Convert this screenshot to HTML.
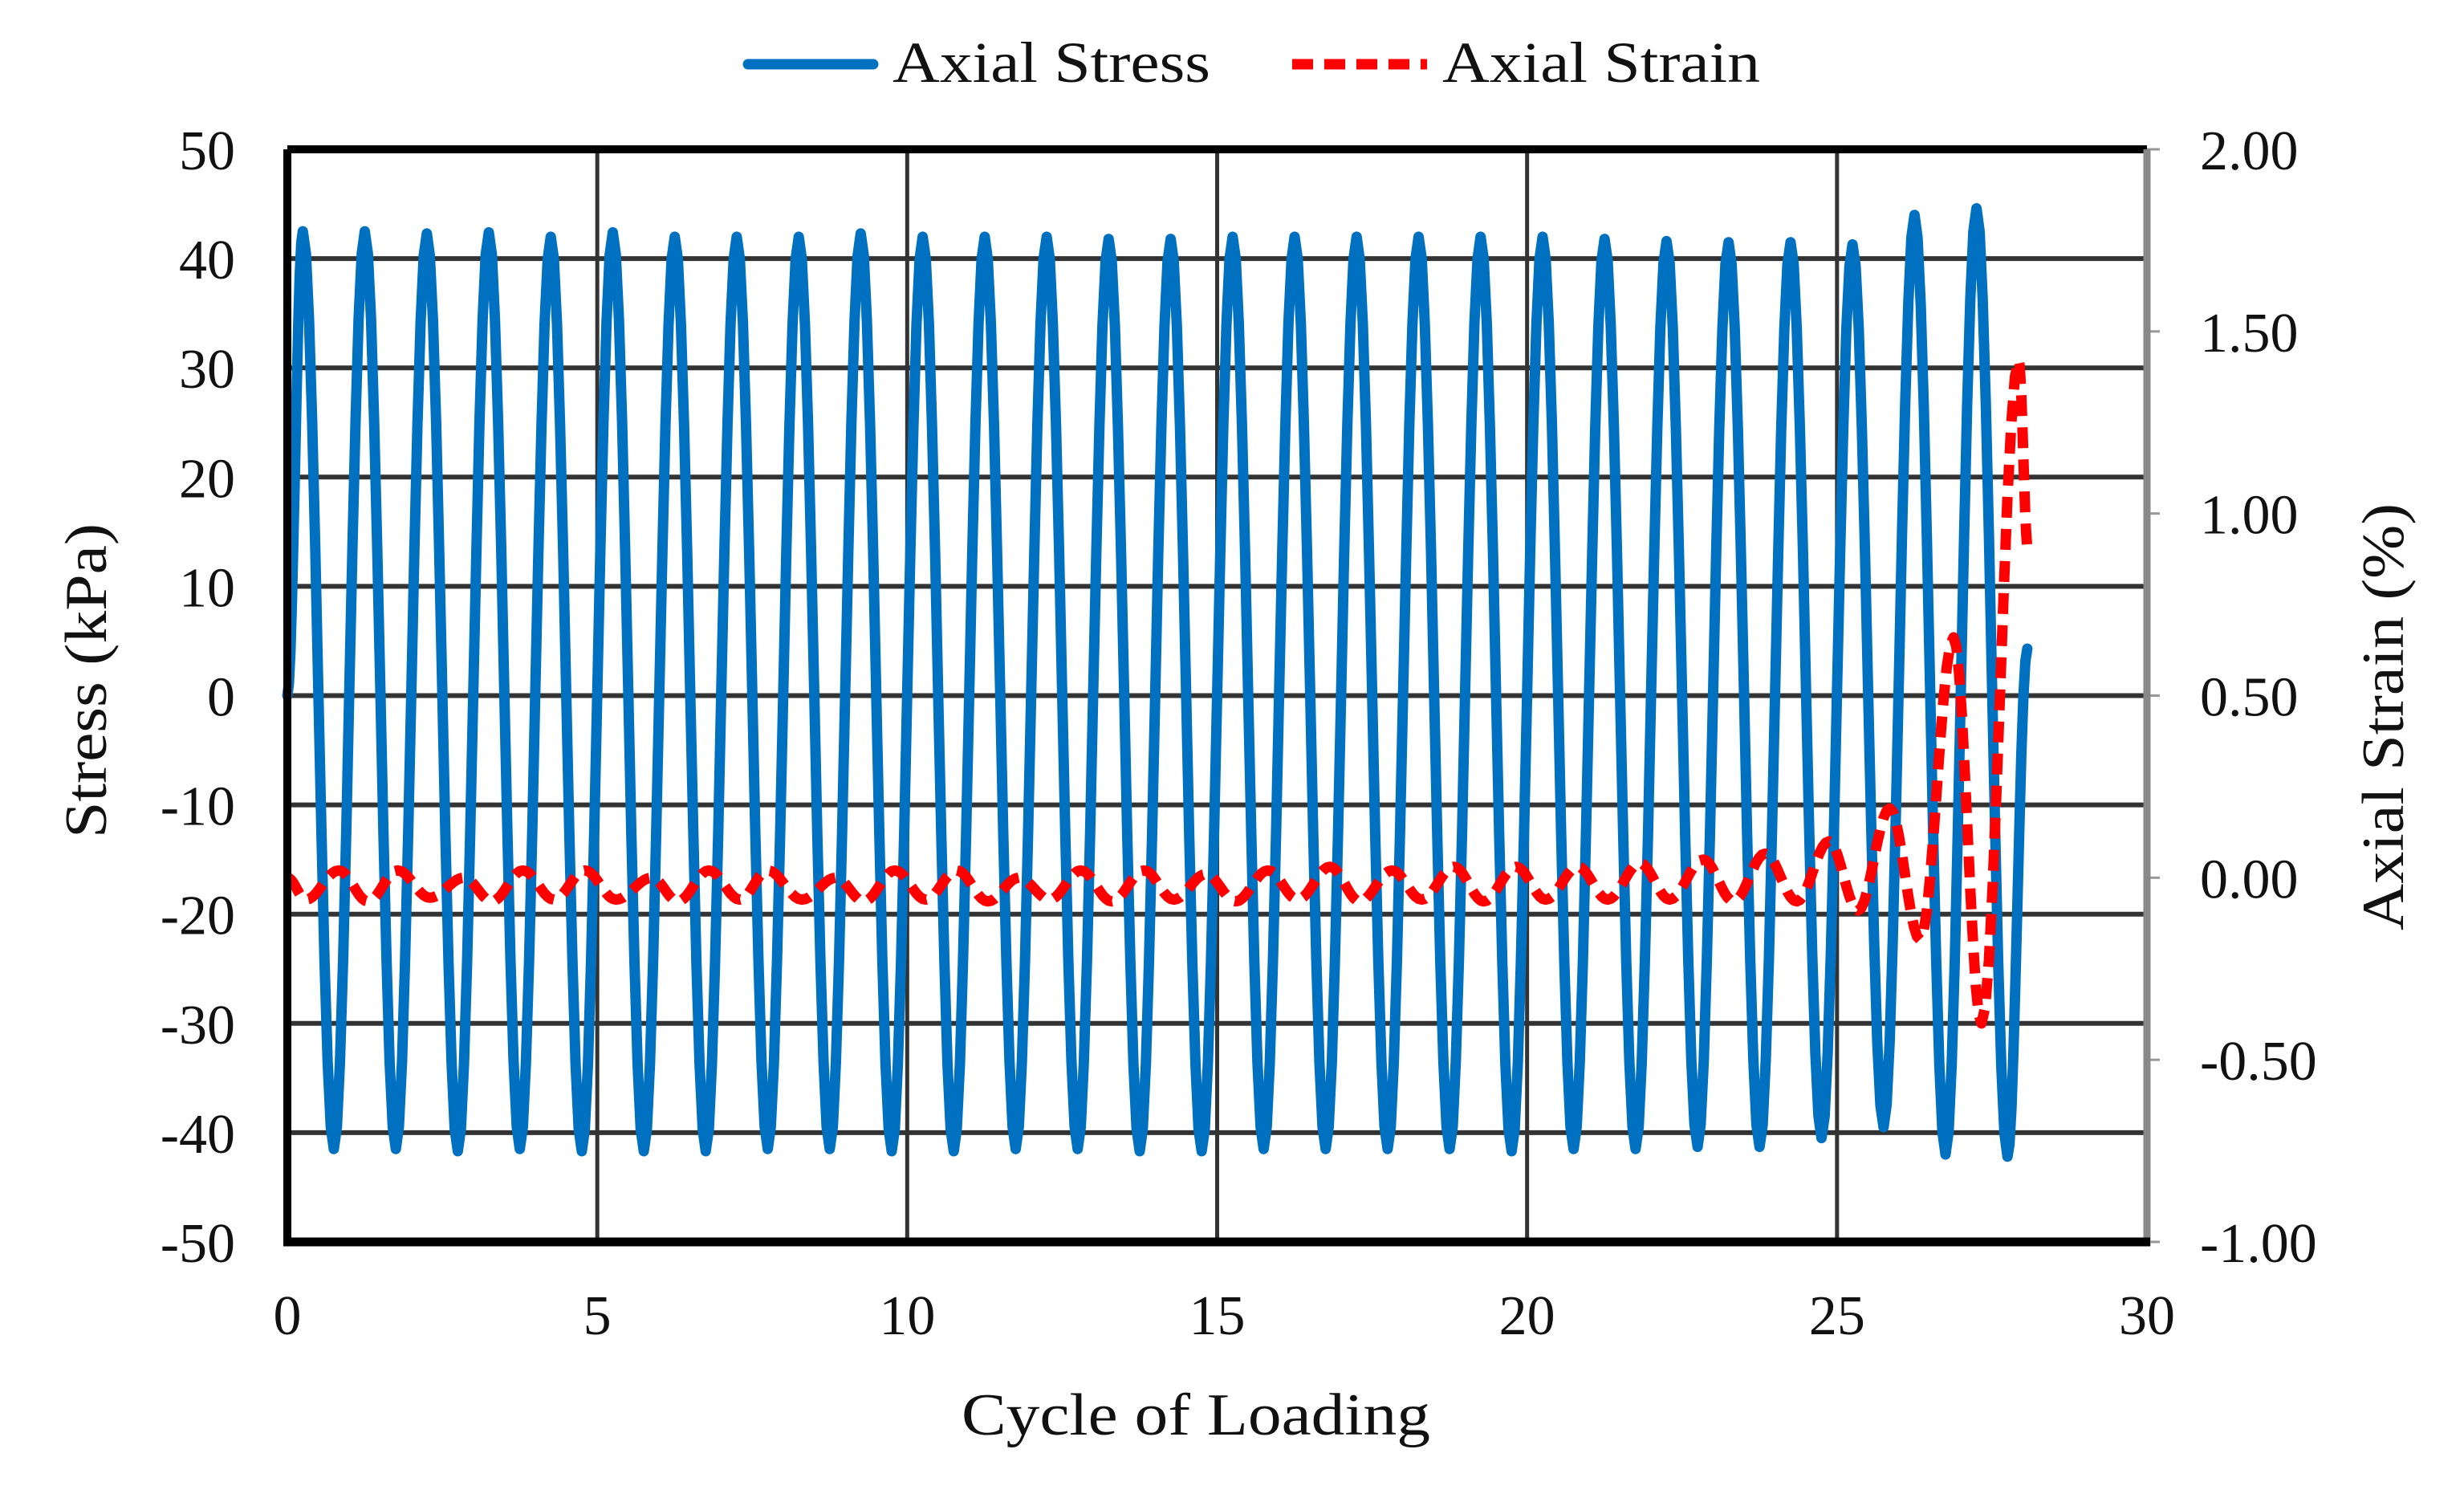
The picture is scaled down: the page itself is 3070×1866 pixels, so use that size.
<!DOCTYPE html>
<html><head><meta charset="utf-8"><style>
html,body{margin:0;padding:0;background:#fff;}
svg{display:block;}
text{font-family:"Liberation Serif",serif;fill:#111;}
</style></head><body>
<svg id="chart" width="3070" height="1866" viewBox="0 0 3070 1866" xmlns="http://www.w3.org/2000/svg">
<g id="grid"></g>
<g id="series"></g>
<g id="frame"></g>
<g id="ticks"></g>
<text x="1490" y="1787" font-size="74" text-anchor="middle" textLength="584" lengthAdjust="spacingAndGlyphs">Cycle of Loading</text>
<text transform="translate(132,848) rotate(-90)" font-size="74" text-anchor="middle" textLength="392" lengthAdjust="spacingAndGlyphs">Stress (kPa)</text>
<text transform="translate(2994,893) rotate(-90)" font-size="74" text-anchor="middle" textLength="532" lengthAdjust="spacingAndGlyphs">Axial Strain (%)</text>
<g>
<g>
<line x1="932" y1="80" x2="1088" y2="80" stroke="#0070C0" stroke-width="13" stroke-linecap="round"/>
<text x="1112" y="102" font-size="72" textLength="396" lengthAdjust="spacingAndGlyphs">Axial Stress</text>
</g>
<g>
<line x1="1610" y1="80" x2="1778" y2="80" stroke="#FF0000" stroke-width="13" stroke-dasharray="26,14"/>
<text x="1797" y="102" font-size="72" textLength="396" lengthAdjust="spacingAndGlyphs">Axial Strain</text>
</g>
</g>
</svg>
<script>
// ---- data ----
const xTicks = [0,5,10,15,20,25,30];
const yTicksLeft = [50,40,30,20,10,0,-10,-20,-30,-40,-50];
const yTicksRight = ["2.00","1.50","1.00","0.50","0.00","-0.50","-1.00"];
const stressPeaks = [42.5,42.5,42.3,42.4,42.0,42.4,42.0,42.0,42.0,42.3,42.0,42.0,42.0,41.8,41.8,42.0,42.0,42.0,42.0,42.0,42.0,41.8,41.6,41.5,41.5,41.3,44.0,44.6];
const stressTroughs = [-41.5,-41.5,-41.7,-41.5,-41.7,-41.7,-41.7,-41.5,-41.5,-41.7,-41.7,-41.5,-41.5,-41.7,-41.7,-41.5,-41.5,-41.5,-41.5,-41.7,-41.5,-41.5,-41.3,-41.3,-40.5,-39.5,-42.0,-42.2];
const stressStart = 0;
const stressEnd = [28.07, 4.3];
const strainX = [0,0.3,0.83,1.3,1.78,2.3,2.85,3.3,3.8,4.3,4.8,5.3,5.88,6.3,6.8,7.3,7.75,8.3,8.85,9.3,9.8,10.3,10.8,11.3,11.8,12.3,12.8,13.3,13.82,14.3,14.82,15.3,15.82,16.3,16.82,17.3,17.82,18.3,18.82,19.3,19.82,20.3,20.82,21.3,21.82,22.3,22.84,23.33,23.84,24.35,24.87,25.34,25.85,26.34,26.88,27.33,27.93,28.08];
const strainV = [0.0,-0.06,0.02,-0.065,0.02,-0.055,0.0,-0.065,0.02,-0.06,0.02,-0.06,0.0,-0.065,0.02,-0.06,0.02,-0.06,0.0,-0.065,0.02,-0.06,0.02,-0.065,0.0,-0.06,0.02,-0.065,0.02,-0.06,0.01,-0.065,0.02,-0.06,0.03,-0.065,0.02,-0.06,0.03,-0.065,0.03,-0.06,0.03,-0.06,0.04,-0.06,0.05,-0.065,0.066,-0.065,0.10,-0.09,0.19,-0.17,0.66,-0.40,1.42,0.90];

// ---- axes ----
const L=358,R=2675,T=186,B=1547;
const xs=v=>L+(v-0)/(30-0)*(R-L);
const ysL=v=>T+(50-v)/100*(B-T);
const ysR=v=>T+(2-v)/3*(B-T);
const NS="http://www.w3.org/2000/svg";
function mk(tag,attrs,parent){const e=document.createElementNS(NS,tag);for(const k in attrs)e.setAttribute(k,attrs[k]);parent.appendChild(e);return e;}
const grid=document.getElementById('grid'),series=document.getElementById('series'),frame=document.getElementById('frame'),ticks=document.getElementById('ticks');

yTicksLeft.forEach(v=>{
  if(v!==50&&v!==-50){const g=mk('line',{x1:L,x2:R,y1:ysL(v),y2:ysL(v),stroke:'#333',"stroke-width":6},grid);
  
  }
  const t=mk('text',{x:293,y:ysL(v)+25,"font-size":70,"text-anchor":"end"},ticks);t.textContent=v;
  
  
});
xTicks.forEach(v=>{
  if(v!==0&&v!==30){const g=mk('line',{x1:xs(v),x2:xs(v),y1:T,y2:B,stroke:'#333',"stroke-width":5},grid);
  
  }
  const t=mk('text',{x:xs(v),y:1662,"font-size":70,"text-anchor":"middle"},ticks);t.textContent=v;
  
  
});
yTicksRight.forEach(s=>{
  const v=parseFloat(s);
  const tk=mk('line',{x1:R,x2:R+16,y1:ysR(v),y2:ysR(v),stroke:'#999',"stroke-width":3},frame);
  
  
  const t=mk('text',{x:2741,y:ysR(v)+25,"font-size":70},ticks);t.textContent=s;
  
  
});

// stress extrema
const sx=[0],sv=[stressStart];
for(let i=0;i<stressPeaks.length;i++){sx.push(i+0.25);sv.push(stressPeaks[i]);sx.push(i+0.75);sv.push(stressTroughs[i]);}
sx.push(stressEnd[0]);sv.push(stressEnd[1]);
function curve(X,V,ys){
  let d='';
  for(let i=0;i<X.length-1;i++){
    const n=10;
    for(let k=(i===0?0:1);k<=n;k++){
      const t=k/n,f=(1-Math.cos(Math.PI*t))/2;
      const x=X[i]+(X[i+1]-X[i])*t,v=V[i]+(V[i+1]-V[i])*f;
      d+=(d?'L':'M')+xs(x).toFixed(1)+','+ys(v).toFixed(1);
    }
  }
  return d;
}
const sp=mk('path',{d:curve(sx,sv,ysL),fill:'none',stroke:'#0070C0',"stroke-width":13,"stroke-linejoin":"round","stroke-linecap":"round"},series);


const ep=mk('path',{d:curve(strainX,strainV,ysR),fill:'none',stroke:'#FF0000',"stroke-width":13,"stroke-dasharray":"26,14","stroke-linejoin":"round"},series);



// frame
const fr=[['#000',L,T,R,T,10],['#000',L,T,L,B,10],['#888',R,T,R,B+5,9],['#000',L-5,B,R+4,B,11]];
fr.forEach(f=>{const l=mk('line',{x1:f[1],y1:f[2],x2:f[3],y2:f[4],stroke:f[0],"stroke-width":f[5]},frame);
  
  });
</script>
</body></html>
